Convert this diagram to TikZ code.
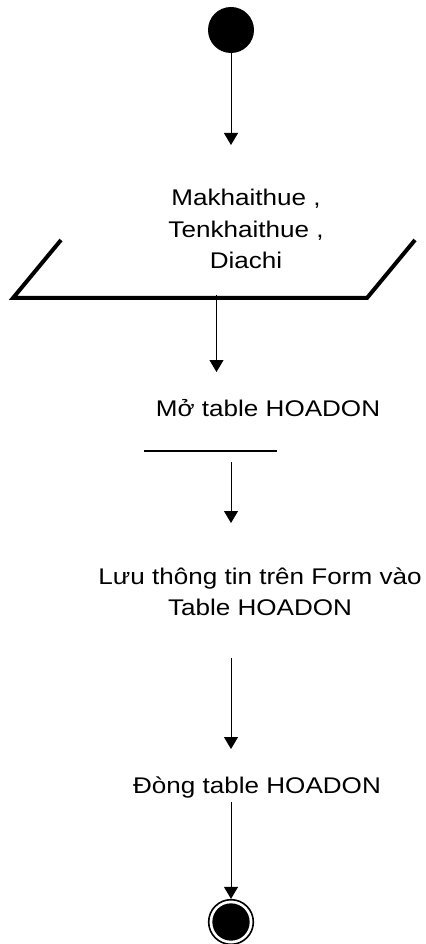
\documentclass[tikz,border=0pt]{standalone}
\usepackage{fontspec}
\setmainfont{Liberation Sans}[FakeStretch=1.15]
\usetikzlibrary{arrows.meta}
\begin{document}
\begin{tikzpicture}[x=0.75pt,y=-0.75pt,
  arr/.style={line width=0.75pt,-{Triangle[width=10.5pt,length=9pt]}},
  lbl/.style={inner sep=0pt,align=center,font=\fontsize{17}{23.5}\selectfont},
  thickline/.style={line width=3pt},
]
\useasboundingbox (0,0) rectangle (425,944);
% start
\node[circle,fill=black,minimum size=34.5pt,inner sep=0pt] (start) at (231,30) {};
\coordinate (t1) at (231,145);
\draw[arr] (start) -- (t1);
% input
\node[lbl] (inp) at (246,229) {Makhaithue ,\\Tenkhaithue ,\\Diachi};
\draw[thickline] (61,240) -- (13,298) -- (367,298) -- (415,240);
\coordinate (s2) at (216.5,295);
\coordinate (t2) at (216.5,372);
\draw[arr] (s2) -- (t2);
% open
\node[lbl] (open) at (268,408) {Mở table HOADON};
\draw[line width=1.5pt] (144,451) -- (277,451);
\coordinate (s3) at (231,462);
\coordinate (t3) at (231,523);
\draw[arr] (s3) -- (t3);
% save
\node[lbl] (save) at (260,592) {Lưu thông tin trên Form vào\\Table HOADON};
\coordinate (s4) at (231,658);
\coordinate (t4) at (231,749);
\draw[arr] (s4) -- (t4);
% close
\node[lbl] (close) at (257,787) {Đòng table HOADON};
\coordinate (s5) at (231,802);
\node[circle,draw=black,line width=1.2pt,fill=white,minimum size=33.5pt,inner sep=0pt] (endo) at (231,922) {};
\node[circle,fill=black,minimum size=28pt,inner sep=0pt] (endi) at (231,922) {};
\draw[arr] (s5) -- (endo);
\end{tikzpicture}
\end{document}
